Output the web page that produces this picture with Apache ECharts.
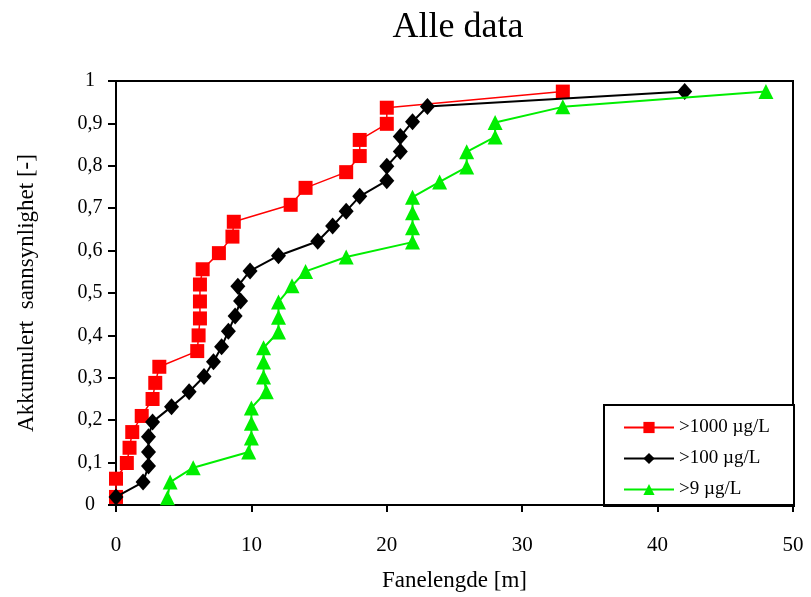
<!DOCTYPE html>
<html>
<head>
<meta charset="utf-8">
<script src="https://cdn.jsdelivr.net/npm/echarts@6/dist/echarts.min.js"></script>
<style>html,body{margin:0;padding:0;background:#fff}#c{width:811px;height:597px}</style>
</head>
<body>
<div id="c"></div>
<script>
const seriesNames = ['>1000 \u00b5g/L', '>100 \u00b5g/L', '>9 \u00b5g/L'];
const redX = [0, 0, 0.8, 1.0, 1.2, 1.9, 2.7, 2.9, 3.2, 6.0, 6.1, 6.2, 6.2, 6.2, 6.4, 7.6, 8.6, 8.7, 12.9, 14.0, 17.0, 18.0, 18.0, 20.0, 20.0, 33.0];
const redY = [0.019, 0.062, 0.099, 0.135, 0.172, 0.21, 0.25, 0.288, 0.326, 0.363, 0.40, 0.44, 0.48, 0.52, 0.556, 0.594, 0.633, 0.668, 0.708, 0.748, 0.785, 0.823, 0.861, 0.899, 0.937, 0.975];
const blackX = [0, 2.0, 2.4, 2.4, 2.4, 2.7, 4.1, 5.4, 6.5, 7.2, 7.8, 8.3, 8.8, 9.2, 9.0, 9.9, 12.0, 14.9, 16.0, 17.0, 18.0, 20.0, 20.0, 21.0, 21.0, 21.9, 23.0, 42.0];
const blackY = [0.019, 0.054, 0.092, 0.125, 0.161, 0.196, 0.232, 0.267, 0.303, 0.338, 0.373, 0.41, 0.446, 0.481, 0.516, 0.552, 0.588, 0.622, 0.658, 0.693, 0.728, 0.765, 0.799, 0.834, 0.869, 0.904, 0.94, 0.975];
const greenX = [3.8, 4.0, 5.7, 9.8, 10.0, 10.0, 10.0, 11.1, 10.9, 10.9, 10.9, 12.0, 12.0, 12.0, 13.0, 14.0, 17.0, 21.9, 21.9, 21.9, 21.9, 23.9, 25.9, 25.9, 28.0, 28.0, 33.0, 48.0];
const greenY = [0.017, 0.054, 0.088, 0.125, 0.158, 0.193, 0.229, 0.267, 0.302, 0.337, 0.371, 0.408, 0.443, 0.479, 0.517, 0.551, 0.585, 0.62, 0.654, 0.689, 0.726, 0.762, 0.797, 0.833, 0.868, 0.902, 0.939, 0.975];
const xTicks = [0, 10, 20, 30, 40, 50];
const yTickLabels = ['0','0,1','0,2','0,3','0,4','0,5','0,6','0,7','0,8','0,9','1'];

const zip = (xs, ys) => xs.map((x, i) => [x, ys[i]]);
const serif = 'Liberation Serif';

const chart = echarts.init(document.getElementById('c'), null, {renderer: 'canvas'});
chart.setOption({
  animation: false,
  backgroundColor: '#fff',
  title: {
    text: 'Alle data', left: 453, top: 5, textAlign: 'center',
    textStyle: {fontFamily: serif, fontSize: 36, fontWeight: 'normal', color: '#000'}
  },
  grid: {left: 116, right: 18, top: 81, bottom: 92, show: true, borderColor: '#000', borderWidth: 2, backgroundColor: 'transparent'},
  xAxis: {
    type: 'value', min: 0, max: 50, interval: 10,
    name: 'Fanelengde [m]', nameLocation: 'middle', nameGap: 64,
    nameTextStyle: {fontFamily: serif, fontSize: 23, color: '#000'},
    axisLine: {lineStyle: {color: '#000', width: 2}},
    axisTick: {show: true, length: 7, lineStyle: {color: '#000', width: 2}},
    axisLabel: {fontFamily: serif, fontSize: 21, color: '#000', margin: 30, formatter: v => xTicks.includes(v) ? String(v) : ''},
    splitLine: {show: false}
  },
  yAxis: {
    type: 'value', min: 0, max: 1, interval: 0.1,
    name: 'Akkumulert  sannsynlighet [-]', nameLocation: 'middle', nameGap: 78, nameRotate: 90,
    nameTextStyle: {fontFamily: serif, fontSize: 23, color: '#000'},
    axisLine: {lineStyle: {color: '#000', width: 2}},
    axisTick: {show: true, length: 8, lineStyle: {color: '#000', width: 2}},
    axisLabel: {fontFamily: serif, fontSize: 20, color: '#000', margin: 26, align: 'center',
      formatter: v => yTickLabels[Math.round(v * 10)]},
    splitLine: {show: false}
  },
  legend: {
    orient: 'vertical', left: 618, top: 413, itemGap: 12, itemWidth: 50, itemHeight: 14,
    textStyle: {fontFamily: serif, fontSize: 19, color: '#000'},
    data: seriesNames
  },
  graphic: [{
    type: 'rect', left: 603, top: 404, z: 0,
    shape: {width: 190, height: 101},
    style: {fill: '#fff', stroke: '#000', lineWidth: 2}
  }],
  series: [
    {name: seriesNames[0], type: 'line', data: zip(redX, redY), symbol: 'rect', symbolSize: 14,
      itemStyle: {color: '#ff0000'}, lineStyle: {color: '#ff0000', width: 1.5}, z: 3},
    {name: seriesNames[1], type: 'line', data: zip(blackX, blackY), symbol: 'diamond', symbolSize: [15, 17],
      itemStyle: {color: '#000'}, lineStyle: {color: '#000', width: 2}, z: 4},
    {name: seriesNames[2], type: 'line', data: zip(greenX, greenY), symbol: 'triangle', symbolSize: 15,
      itemStyle: {color: '#00ee00'}, lineStyle: {color: '#00ee00', width: 2}, z: 5}
  ]
});
</script>
</body>
</html>
